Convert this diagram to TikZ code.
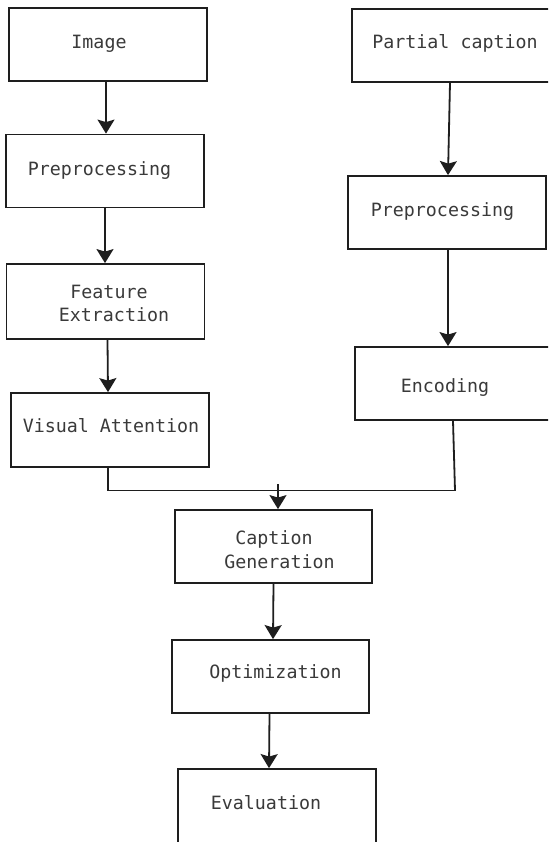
\documentclass[tikz,border=0pt]{standalone}
\usepackage{fontspec}
\setmainfont{DejaVu Sans Mono}
\usetikzlibrary{arrows.meta}
\definecolor{txt}{HTML}{3A3A3A}
\definecolor{ln}{HTML}{1E1E1E}
\begin{document}
\begin{tikzpicture}[x=1pt,y=-1pt,
  box/.style={draw=ln,line width=1.8pt,minimum width=#1,minimum height=73pt,inner sep=0pt,anchor=center},
  box/.default=198pt,
  lbl/.style={text=txt,font=\fontsize{18.3pt}{23.5pt}\selectfont,anchor=base,inner sep=0pt},
  arr/.style={draw=ln,line width=1.8pt,-{Stealth[length=14pt,width=17pt,inset=2.5pt]}},
  wire/.style={draw=ln,line width=1.8pt}]
\useasboundingbox (0,0) rectangle (548,842);
\clip (0,0) rectangle (548,842);
\fill[white] (0,0) rectangle (548,842);
% boxes
\node[box] (img) at (108,44.5) {};
\node[box] (preL) at (105,171) {};
\node[box,minimum height=75pt] (fe) at (105.5,301.5) {};
\node[box,minimum height=74pt] (va) at (110,430) {};
\node[box] (pc) at (451,45.5) {};
\node[box] (preR) at (447,212.5) {};
\node[box=200pt] (enc) at (455,383.5) {};
\node[box=197pt] (cg) at (273.5,546.5) {};
\node[box=197pt] (opt) at (270.5,676.5) {};
\node[box,minimum height=78pt] (ev) at (277,808) {};
% labels
\node[lbl] (timg) at (99,49) {Image};
\node[lbl] (tpreL) at (99.5,176) {Preprocessing};
\node[lbl] (tfe1) at (109,298) {Feature};
\node[lbl] (tfe2) at (114,321) {Extraction};
\node[lbl] (tva) at (111,432) {Visual Attention};
\node[lbl] (tpc) at (455,49) {Partial caption};
\node[lbl] (tpreR) at (442.5,217) {Preprocessing};
\node[lbl] (tenc) at (445,392) {Encoding};
\node[lbl] (tcg1) at (274,544) {Caption};
\node[lbl] (tcg2) at (279.5,568) {Generation};
\node[lbl] (topt) at (275.5,678) {Optimization};
\node[lbl] (tev) at (266,809) {Evaluation};
% connectors
\draw[arr] ([xshift=-2pt]img.south) -- ([xshift=1pt]preL.north);
\draw[arr] (preL.south) -- (preL.south |- fe.north);
\draw[arr] ([xshift=2pt]fe.south) -- ([xshift=-2pt]va.north);
\draw[arr] ([xshift=-1pt]pc.south) -- ([xshift=1pt]preR.north);
\draw[arr] ([xshift=1pt]preR.south) -- ([xshift=-7pt]enc.north);
\coordinate (mL) at (108,490.5);
\coordinate (mR) at (456,490.5);
\coordinate (mT) at (278,484);
\draw[wire] ([xshift=-2pt]va.south) -- (mL) -- (mR);
\draw[wire] ([xshift=-2pt]enc.south) -- ([xshift=-1pt]mR);
\draw[arr] (mT) -- ([xshift=4.5pt]cg.north);
\draw[arr] (cg.south) -- ([xshift=2.5pt]opt.north);
\draw[arr] ([xshift=-1pt]opt.south) -- ([xshift=-8pt]ev.north);
\end{tikzpicture}
\end{document}
